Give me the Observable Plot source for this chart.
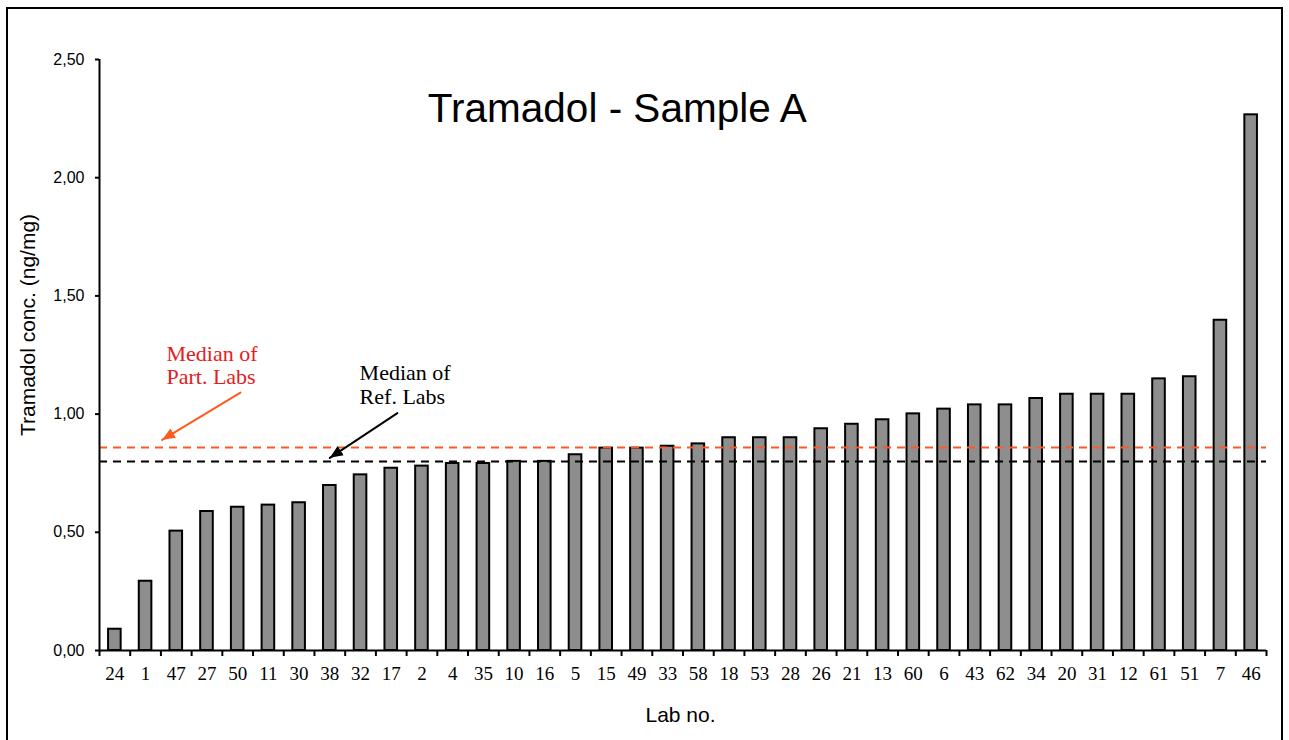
<!DOCTYPE html>
<html><head><meta charset="utf-8">
<script src="https://cdn.jsdelivr.net/npm/d3@7"></script>
<script src="https://cdn.jsdelivr.net/npm/@observablehq/plot@0.6"></script>
<style>
body{margin:0;background:#fff;}
#wrap{position:relative;width:1289px;height:740px;overflow:hidden;}
#border{position:absolute;left:6px;top:7px;width:1277px;height:800px;border:2px solid #000;box-sizing:border-box;}
#chart{position:absolute;left:0;top:0;}
</style></head><body>
<div id="wrap"><div id="chart"></div><div id="border"></div></div>
<script>
// ---- data ----
const labs = ["24","1","47","27","50","11","30","38","32","17","2","4","35","10","16","5","15","49","33","58","18","53","28","26","21","13","60","6","43","62","34","20","31","12","61","51","7","46"];
const conc = [0.090,0.293,0.505,0.588,0.606,0.615,0.625,0.698,0.743,0.771,0.780,0.791,0.791,0.800,0.800,0.828,0.856,0.856,0.864,0.874,0.900,0.900,0.900,0.938,0.957,0.976,1.001,1.021,1.039,1.039,1.066,1.084,1.084,1.084,1.149,1.158,1.397,2.266];
const medianPart = 0.859;
const medianRef = 0.800;
const yTicks = [0, 0.5, 1, 1.5, 2, 2.5];
const titleText = "Tramadol - Sample A";
const yLabel = "Tramadol conc. (ng/mg)";
const xLabel = "Lab no.";
// annotation anchors (data coordinates: x = lab index, y = concentration)
const partNote = {x: 1.68, y: 1.207, text: "Median of\nPart. Labs"};
const refNote = {x: 7.97, y: 1.124, text: "Median of\nRef. Labs"};
const partArrow = [{x: 4.09, y: 1.091}, {x: 1.54, y: 0.891}];
const refArrow = [{x: 9.20, y: 1.004}, {x: 7.00, y: 0.815}];
const titlePos = {x: 16.36, y: 2.29};

const table = labs.map((lab, i) => ({lab, i, value: conc[i]}));
const sans = "Liberation Sans, Arial, sans-serif";
const serif = "Liberation Serif, Times New Roman, serif";
const orange = "#ff5a1e";

const headMarker = (color) => {
  const m = d3.create("svg:marker")
    .attr("viewBox", "-13 -6 14 12")
    .attr("markerWidth", 14).attr("markerHeight", 12)
    .attr("markerUnits", "userSpaceOnUse")
    .attr("refX", 0).attr("refY", 0)
    .attr("orient", "auto")
    .attr("fill", color).attr("stroke", "none");
  m.append("path").attr("d", "M0,0L-13,-5.5L-13,5.5Z");
  return m.node();
};

const chart = Plot.plot({
  width: 1289,
  height: 740,
  marginLeft: 99,
  marginRight: 23,
  marginTop: 59,
  marginBottom: 90,
  style: {fontFamily: sans, background: "transparent", overflow: "visible"},
  x: {type: "linear", domain: [-0.5, labs.length - 0.5], label: null},
  y: {domain: [0, 2.5], label: null},
  marks: [
    Plot.rectY(table, {x1: d => d.i - 0.205, x2: d => d.i + 0.205, y: "value", fill: "#8e8e8e", stroke: "#000", strokeWidth: 2}),
    Plot.ruleY([medianPart], {stroke: orange, strokeWidth: 2, strokeDasharray: "8,6"}),
    Plot.ruleY([medianRef], {stroke: "#000", strokeWidth: 2, strokeDasharray: "8,6"}),
    Plot.ruleX([-0.5], {stroke: "#000", strokeWidth: 2}),
    Plot.ruleY([0], {stroke: "#000", strokeWidth: 2}),
    Plot.axisY(yTicks, {tickSize: 4, tickPadding: 11, strokeWidth: 2, tickFormat: d => d.toFixed(2).replace(".", ","), fontSize: 16, fontFamily: sans, fill: "#000", label: null}),
    Plot.axisX(d3.range(labs.length + 1).map(i => i - 0.5), {tickSize: 6, strokeWidth: 2, tickFormat: () => "", label: null}),
    Plot.axisX(d3.range(labs.length), {tickSize: 0, tickPadding: 16, tickFormat: i => labs[i], fontSize: 19, fontFamily: serif, fill: "#000", label: null}),
    Plot.text([yLabel], {frameAnchor: "left", textAnchor: "middle", rotate: -90, dx: -71, dy: -30, fontSize: 21, fontFamily: sans, fill: "#000"}),
    Plot.text([xLabel], {frameAnchor: "bottom", textAnchor: "middle", lineAnchor: "middle", dx: -2.5, dy: 65, fontSize: 21, fontFamily: sans, fill: "#000"}),
    Plot.text([titlePos], {x: "x", y: "y", text: () => titleText, fontSize: 40.5, fontFamily: sans, fill: "#000"}),
    Plot.text([partNote], {x: "x", y: "y", text: "text", textAnchor: "start", lineHeight: 1.07, fontSize: 22, fontFamily: serif, fill: "#e3201b"}),
    Plot.text([refNote], {x: "x", y: "y", text: "text", textAnchor: "start", lineHeight: 1.09, fontSize: 22, fontFamily: serif, fill: "#000"}),
    Plot.line(partArrow, {x: "x", y: "y", stroke: orange, strokeWidth: 2, markerEnd: headMarker}),
    Plot.line(refArrow, {x: "x", y: "y", stroke: "#000", strokeWidth: 2, markerEnd: headMarker})
  ]
});
document.getElementById("chart").append(chart);
</script>
</body></html>
